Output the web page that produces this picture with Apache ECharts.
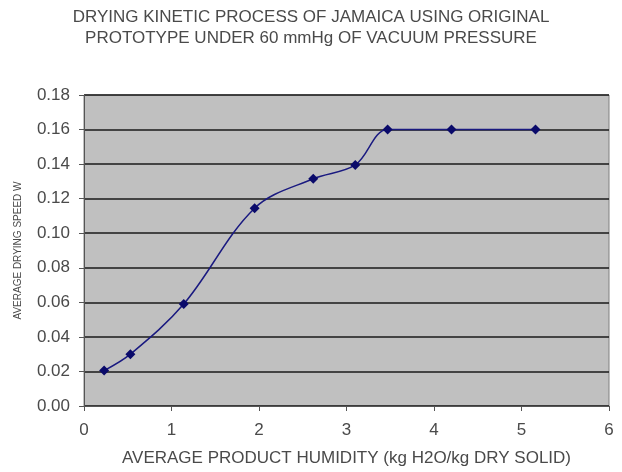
<!DOCTYPE html>
<html>
<head>
<meta charset="utf-8">
<script src="https://cdn.jsdelivr.net/npm/echarts@6/dist/echarts.min.js"></script>
<style>
html,body{margin:0;padding:0;background:#fff;}
#chart{width:622px;height:472px;}
</style>
</head>
<body>
<div id="chart"></div>
<script>
const humidity = [0.23, 0.53, 1.14, 1.95, 2.62, 3.10, 3.47, 4.20, 5.16];
const dryingSpeed = [0.0205, 0.030, 0.059, 0.1145, 0.1315, 0.1395, 0.160, 0.160, 0.160];
const titleLines = ["DRYING KINETIC PROCESS OF JAMAICA USING ORIGINAL", "PROTOTYPE UNDER 60 mmHg OF VACUUM PRESSURE"];
const xName = "AVERAGE PRODUCT HUMIDITY (kg H2O/kg DRY SOLID)";
const yName = "AVERAGE DRYING SPEED W";

const points = humidity.map((x, i) => [x, dryingSpeed[i]]);
const font = "'Liberation Sans', Arial, sans-serif";
const textColor = '#4a4a4a';
const chart = echarts.init(document.getElementById('chart'));
chart.setOption({
  animation: false,
  backgroundColor: '#ffffff',
  title: {
    text: titleLines.join('\n'),
    left: 'center',
    top: 2,
    textStyle: { fontFamily: font, fontSize: 17, fontWeight: 'normal', color: textColor, lineHeight: 21 }
  },
  grid: {
    left: 84, right: 13, top: 95, bottom: 66,
    show: true, backgroundColor: '#c0c0c0', borderColor: '#808080', borderWidth: 1
  },
  xAxis: {
    type: 'value', min: 0, max: 6, interval: 1,
    name: xName, nameLocation: 'middle', nameGap: 44,
    nameTextStyle: { fontFamily: font, fontSize: 17, color: textColor },
    axisLine: { show: true, lineStyle: { color: '#555', width: 1 } },
    axisTick: { show: true, length: 5, lineStyle: { color: '#555' } },
    axisLabel: { fontFamily: font, fontSize: 17, color: textColor, margin: 16 },
    splitLine: { show: false }
  },
  yAxis: {
    type: 'value', min: 0, max: 0.18, interval: 0.02,
    name: yName, nameLocation: 'middle', nameGap: 61,
    nameTextStyle: { fontFamily: font, fontSize: 10, color: textColor },
    axisLine: { show: true, lineStyle: { color: '#555', width: 1 } },
    axisTick: { show: true, length: 5, lineStyle: { color: '#555' } },
    axisLabel: { fontFamily: font, fontSize: 17, color: textColor, margin: 14, formatter: v => v.toFixed(2) },
    splitLine: { show: true, lineStyle: { color: '#1a1a1a', width: 1.5 } }
  },
  series: [{
    type: 'line',
    data: points,
    smooth: 0.35,
    symbol: 'diamond',
    symbolSize: 10,
    lineStyle: { color: '#1a1a80', width: 1.5 },
    itemStyle: { color: '#0a0a6a' }
  }]
});
</script>
</body>
</html>
